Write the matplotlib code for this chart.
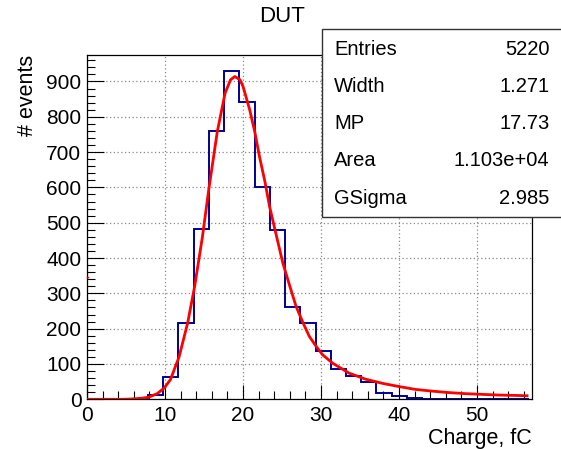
import numpy as np
import matplotlib
matplotlib.use("Agg")
import matplotlib.pyplot as plt
from matplotlib.ticker import MultipleLocator

plt.rcParams['font.family'] = ['Liberation Sans', 'DejaVu Sans']

# histogram: 29 bins of width ~1.953 fC starting at 0
bin_width = 1.953
counts = [0, 0, 0, 0, 12, 64, 217, 482, 761, 931, 842, 601, 480, 261, 217,
          137, 86, 66, 50, 17, 10, 3, 0, 0, 0, 0, 0, 0, 0]

# Landau-Gauss fit curve
fit_x = [0.0, 4.5, 5.8, 7.0, 7.9, 9.0, 9.9, 10.7, 11.8, 12.9, 13.8, 14.8, 15.6,
         16.7, 17.7, 18.4, 18.95, 19.6, 20.0, 20.85, 21.5, 22.1, 22.8, 23.4,
         24.3, 25.1, 26.0, 26.8, 27.7, 28.5, 29.4, 30.2, 31.5, 33.6, 35.7,
         37.9, 40.0, 42.1, 44.3, 46.4, 48.5, 50.6, 52.8, 54.9, 56.4]
fit_y = [0, 0, 1, 3, 6, 16, 32, 56, 120, 216, 320, 461, 593,
         758, 867, 905, 914, 905, 886, 820, 758, 688, 617, 546,
         461, 386, 320, 263, 216, 178, 149, 126, 102, 74, 57,
         45, 36, 28, 23, 19, 16, 14, 12, 11, 10]

stats_labels = ['Entries', 'Width', 'MP', 'Area', 'GSigma']
stats_values = ['5220', '1.271', '17.73', '1.103e+04', '2.985']

edges = np.arange(len(counts) + 1) * bin_width

W, H = 561, 449
fig = plt.figure(figsize=(W / 100, H / 100), dpi=100)
ax = fig.add_axes([87 / W, 1 - 399.3 / H, (531.7 - 87) / W, (399.3 - 55) / H])

ax.stairs(counts, edges, color='#000099', lw=1.4, zorder=3)
ax.plot(fit_x, fit_y, color='red', lw=2.0, zorder=4)
# small red mark on the y axis
ax.plot([0, 0.15], [346, 346], color='red', lw=1, zorder=5, clip_on=False)

ax.set_xlim(0, 57)
ax.set_ylim(0, 975)

ax.xaxis.set_major_locator(MultipleLocator(10))
ax.xaxis.set_minor_locator(MultipleLocator(2))
ax.yaxis.set_major_locator(MultipleLocator(100))
ax.yaxis.set_minor_locator(MultipleLocator(20))
ax.tick_params(which='both', direction='in', top=False, right=False,
               labelsize=15, width=0.8)
ax.tick_params(axis='x', which='major', length=10, pad=5)
ax.tick_params(axis='x', which='minor', length=6)
ax.tick_params(axis='y', which='major', length=12, pad=4)
ax.tick_params(axis='y', which='minor', length=6)
ax.grid(True, which='major', ls=(0, (1, 2)), color='#888888', lw=0.9)
ax.set_axisbelow(True)
for s in ax.spines.values():
    s.set_linewidth(0.9)
    s.set_color('black')

ax.set_xlabel('Charge, fC', fontsize=15.5, loc='right', labelpad=2)
ax.set_ylabel('# events', fontsize=15.5, loc='top', labelpad=6)

fig.text(281.7 / W, 1 - 17 / H, 'DUT', fontsize=16, ha='center', va='center')

# stats box (runs past the right edge of the canvas)
box = plt.Rectangle((321.7 / W, 1 - 216.7 / H), 0.5, (216.7 - 29.3) / H,
                    transform=fig.transFigure, fill=True, facecolor='white',
                    edgecolor='#333333', lw=1.0, zorder=10)
fig.patches.append(box)
row_y = [49.3, 86.3, 123.6, 160.9, 198.2]
for lab, val, yy in zip(stats_labels, stats_values, row_y):
    fig.text(334 / W, 1 - yy / H, lab, fontsize=14.5, ha='left', va='center', zorder=11)
    fig.text(549.5 / W, 1 - yy / H, val, fontsize=14.5, ha='right', va='center', zorder=11)

fig.savefig('out.png', dpi=100)
